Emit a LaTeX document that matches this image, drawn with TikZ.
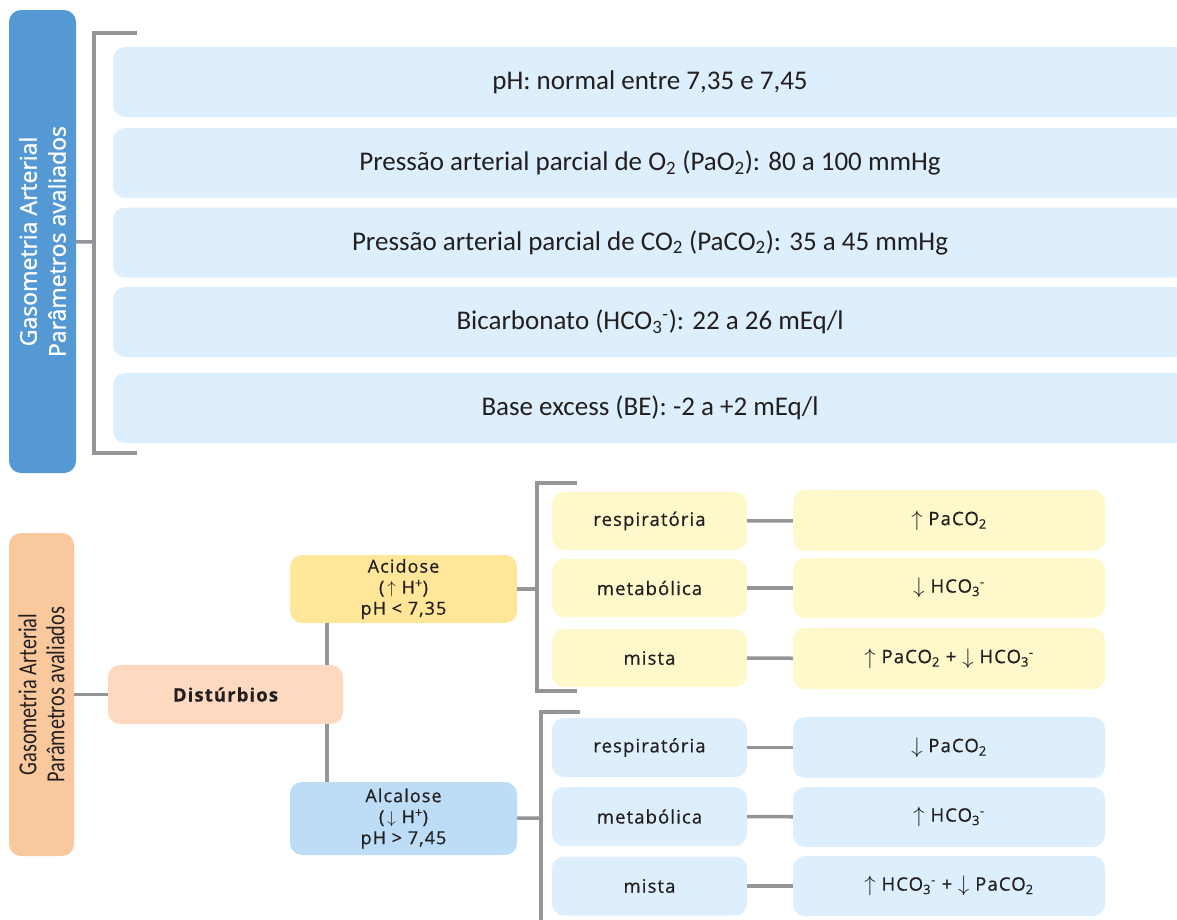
\documentclass[tikz,border=0pt]{standalone}
\usepackage{fontspec}
\setmainfont{Carlito}
\newfontfamily\sidefont[FakeBold=1.2]{Open Sans}
\newfontfamily\lowfont[LetterSpace=6, FakeBold=0.6]{Open Sans}
\newfontfamily\narrowfont[FakeStretch=0.78]{Carlito}
\usetikzlibrary{positioning}

\definecolor{darkblue}{HTML}{5599D4}
\definecolor{paleblue}{HTML}{DDEEFC}
\definecolor{midblue}{HTML}{BDDDF6}
\definecolor{peach}{HTML}{F9C89D}
\definecolor{lightpeach}{HTML}{FDDABF}
\definecolor{gold}{HTML}{FFE699}
\definecolor{paleyellow}{HTML}{FEF8CA}
\definecolor{linegray}{HTML}{939598}
\definecolor{ink}{HTML}{231F20}

\newcommand{\hcoion}{HCO\textsubscript{3}\textsuperscript{-}}
\newcommand{\pcoo}{PaCO\textsubscript{2}}
\newcommand{\arrup}{\raisebox{-0.1ex}{\scalebox{1.3}{$\uparrow$}}}
\newcommand{\arrdn}{\raisebox{-0.1ex}{\scalebox{1.3}{$\downarrow$}}}

\begin{document}
\begin{tikzpicture}[x=1pt,y=-1pt]
	\tikzset{roundbox/.style={rounded corners=12pt, inner sep=0pt, align=center, text=ink}}
	\tikzset{line/.style={draw=linegray, line width=3.5pt}}
	\tikzset{param/.style={roundbox, fill=paleblue, minimum width=1074pt, minimum height=70pt,
			font=\fontsize{27}{31}\selectfont}}
	\tikzset{kind/.style={roundbox, minimum width=195pt, minimum height=58pt,
			font=\lowfont\fontsize{18.5}{22}\selectfont}}
	\tikzset{effect/.style={roundbox, minimum width=312pt, minimum height=60pt,
			font=\lowfont\fontsize{18.5}{22}\selectfont}}
	\tikzset{state/.style={roundbox, minimum width=227pt,
			font=\lowfont\fontsize{18}{21}\selectfont}}
	\useasboundingbox (0,0) rectangle (1177,919);
	\clip (0,0) rectangle (1177,919);
	%parametros
	\node[roundbox, fill=darkblue, text=white, rotate=90, minimum width=463pt, minimum height=67pt,
		font=\sidefont\fontsize{23}{29}\selectfont] (gaso) at (42.5,241.5)
		{Gasometria Arterial\\Parâmetros avaliados};
	\node[param] (ph) at (650,82) {pH: normal entre 7,35 e 7,45};
	\node[param] (pao) at (650,163) {Pressão arterial parcial de O\textsubscript{2} (PaO\textsubscript{2}): 80 a 100 mmHg};
	\node[param] (paco) at (650,242.5) {Pressão arterial parcial de CO\textsubscript{2} (\pcoo): 35 a 45 mmHg};
	\node[param] (bic) at (650,322) {Bicarbonato (\hcoion): 22 a 26 mEq/l};
	\node[param] (be) at (650,408) {Base excess (BE): -2 a +2 mEq/l};
	\coordinate (tb1) at (137,33);
	\coordinate (tb2) at (94,33);
	\coordinate (tb3) at (94,453);
	\coordinate (tb4) at (137,453);
	\coordinate (tbm) at (94,242);
	\draw[line] (tb1) -- (tb2) -- (tb3) -- (tb4);
	\path (gaso) edge[line] (tbm);
	%disturbios
	\node[roundbox, fill=peach, rotate=90, minimum width=323pt, minimum height=65pt,
		font=\narrowfont\fontsize{26}{28}\selectfont] (gaso2) at (41.5,694.5)
		{Gasometria Arterial\\Parâmetros avaliados};
	\node[roundbox, fill=lightpeach, minimum width=235pt, minimum height=59pt,
		font=\lowfont\bfseries\fontsize{18.5}{22}\selectfont] (dist) at (225.5,694.5) {Distúrbios};
	\node[state, fill=gold, minimum height=68pt] (acid) at (403.5,589)
		{Acidose\\(\,$\uparrow$\ H\textsuperscript{+})\\pH < 7,35};
	\node[state, fill=midblue, minimum height=73pt] (alca) at (403.5,818.5)
		{Alcalose\\(\,$\downarrow$\ H\textsuperscript{+})\\pH > 7,45};
	\coordinate (vline) at (327,700);
	\path (gaso2) edge[line] (dist);
	\draw[line] (acid.south -| vline) -- (dist.north -| vline);
	\draw[line] (dist.south -| vline) -- (alca.north -| vline);
	%acidose
	\node[kind, fill=paleyellow] (aresp) at (649.5,521) {respiratória};
	\node[kind, fill=paleyellow] (ameta) at (649.5,588) {metabólica};
	\node[kind, fill=paleyellow] (amist) at (649.5,658) {mista};
	\node[effect, fill=paleyellow, minimum height=61pt] (arespx) at (949,520.5) {\arrup\ \pcoo};
	\node[effect, fill=paleyellow] (ametax) at (949,588) {\arrdn\ \hcoion};
	\node[effect, fill=paleyellow, minimum height=61pt] (amistx) at (949,658.5) {\arrup\ \pcoo{} + \arrdn\ \hcoion};
	\coordinate (ab1) at (577,483);
	\coordinate (ab2) at (537,483);
	\coordinate (ab3) at (537,691);
	\coordinate (ab4) at (577,691);
	\coordinate (abm) at (537,589);
	\draw[line] (ab1) -- (ab2) -- (ab3) -- (ab4);
	\path (acid) edge[line] (abm);
	\path (aresp) edge[line] (arespx);
	\path (ameta) edge[line] (ametax);
	\path (amist) edge[line] (amistx);
	%alcalose
	\node[kind, fill=paleblue, minimum height=59pt] (lresp) at (649.5,747.5) {respiratória};
	\node[kind, fill=paleblue, minimum height=59pt] (lmeta) at (649.5,816.5) {metabólica};
	\node[kind, fill=paleblue, minimum height=59pt] (lmist) at (649.5,886) {mista};
	\node[effect, fill=paleblue, minimum height=61pt] (lrespx) at (949,747.5) {\arrdn\ \pcoo};
	\node[effect, fill=paleblue] (lmetax) at (949,817) {\arrup\ \hcoion};
	\node[effect, fill=paleblue] (lmistx) at (949,886) {\arrup\ \hcoion{} + \arrdn\ \pcoo};
	\coordinate (lb1) at (580,712);
	\coordinate (lb2) at (541,712);
	\coordinate (lb3) at (541,925);
	\coordinate (lbm) at (541,818);
	\draw[line] (lb1) -- (lb2) -- (lb3);
	\path (alca) edge[line] (lbm);
	\path (lresp) edge[line] (lrespx);
	\path (lmeta) edge[line] (lmetax);
	\path (lmist) edge[line] (lmistx);
\end{tikzpicture}
\end{document}
